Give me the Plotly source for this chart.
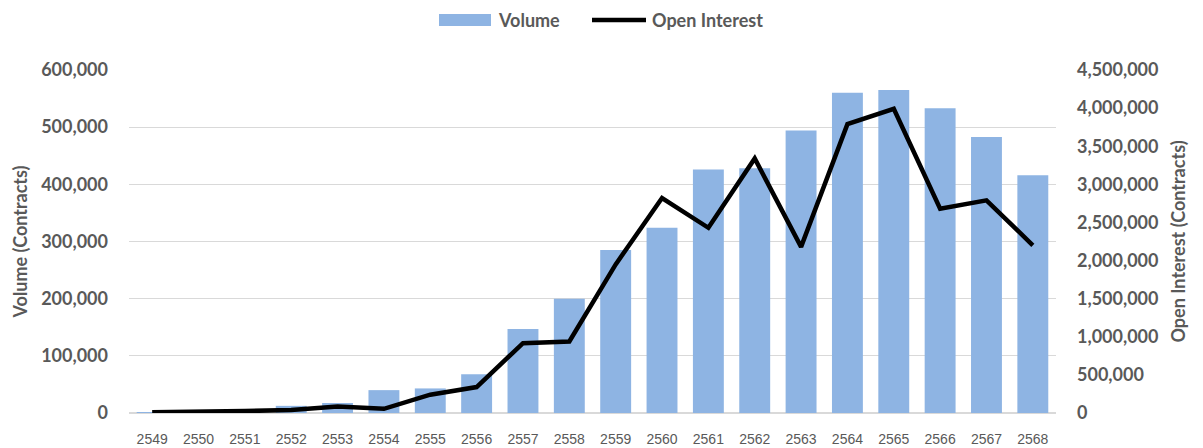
import plotly.graph_objects as go

years = ["2549", "2550", "2551", "2552", "2553", "2554", "2555", "2556", "2557", "2558",
         "2559", "2560", "2561", "2562", "2563", "2564", "2565", "2566", "2567", "2568"]
volume = [500, 1500, 6000, 12500, 17500, 40000, 43000, 68000, 147000, 200000,
          285000, 324000, 426000, 428000, 494000, 560000, 565000, 533000, 483000, 416000]
open_interest = [10000, 15000, 25000, 40000, 85000, 55000, 240000, 340000, 916000, 938000,
                 1950000, 2820000, 2430000, 3340000, 2180000, 3790000, 3990000, 2680000, 2790000, 2200000]

left_ticks = [0, 100000, 200000, 300000, 400000, 500000, 600000]
right_ticks = [0, 500000, 1000000, 1500000, 2000000, 2500000, 3000000, 3500000, 4000000, 4500000]

GREY = "#595959"
FONT = "Lato"
BAR_COLOR = "#8EB4E3"

# The page body has a default 8px margin, so the figure is drawn 8px in from the corner.
OFF = 8
W, H = 1203 - OFF, 448 - OFF
ML = 129 - OFF
MT = 70 - OFF
MR = 1203 - 1056
MB = 448 - 413
PW, PH = W - ML - MR, H - MT - MB


def px_x(px):
    return (px - OFF - ML) / PW


def px_y(py):
    return (H - MB - (py - OFF)) / PH


fig = go.Figure()
fig.add_trace(go.Bar(x=years, y=volume, name="Volume", marker=dict(color=BAR_COLOR, line=dict(width=0)),
                     yaxis="y", showlegend=False))
fig.add_trace(go.Scatter(x=years, y=open_interest, name="Open Interest", mode="lines",
                         line=dict(color="#000000", width=4.5), yaxis="y2", showlegend=False))

# custom legend (matches the wide swatches of the reference)
shapes = [
    dict(type="rect", xref="paper", yref="paper", x0=px_x(439), x1=px_x(491), y0=px_y(26), y1=px_y(14),
         fillcolor=BAR_COLOR, line=dict(width=0)),
    dict(type="line", xref="paper", yref="paper", x0=px_x(592), x1=px_x(646), y0=px_y(20), y1=px_y(20),
         line=dict(color="#000000", width=4.5)),
]
annotations = [
    dict(text="Volume", xref="paper", yref="paper", x=px_x(496), y=px_y(20), xanchor="left", yanchor="middle",
         showarrow=False, font=dict(family=FONT, size=18, color=GREY, weight="bold")),
    dict(text="Open Interest", xref="paper", yref="paper", x=px_x(650), y=px_y(20), xanchor="left",
         yanchor="middle", showarrow=False, font=dict(family=FONT, size=18, color=GREY, weight="bold")),
]

fig.update_layout(
    width=W, height=H,
    margin=dict(l=ML, r=MR, t=MT, b=MB, autoexpand=False),
    paper_bgcolor="white", plot_bgcolor="white",
    bargap=0.333,
    showlegend=False,
    font=dict(family=FONT, color=GREY),
    shapes=shapes,
    annotations=annotations,
    xaxis=dict(type="category", showgrid=False, showline=False, ticks="",
               tickfont=dict(family="Liberation Sans", size=14, color=GREY),
               ticklabelstandoff=16, zeroline=False),
    yaxis=dict(range=[0, 600000], tickvals=left_ticks, tickformat=",d",
               showgrid=True, gridcolor="#D9D9D9", gridwidth=1.3,
               zeroline=True, zerolinecolor="#D9D9D9", zerolinewidth=1.5,
               ticks="", showline=False,
               tickfont=dict(family=FONT, size=18, color=GREY, weight="bold"),
               ticklabelstandoff=20,
               title=dict(text="Volume (Contracts)", standoff=8,
                          font=dict(family=FONT, size=18, color=GREY, weight="bold"))),
    yaxis2=dict(range=[0, 4500000], tickvals=right_ticks, tickformat=",d",
                overlaying="y", side="right", showgrid=False, zeroline=False,
                ticks="", showline=False,
                tickfont=dict(family=FONT, size=18, color=GREY, weight="bold"),
                ticklabelstandoff=20,
                title=dict(text="Open Interest (Contracts)", standoff=14,
                           font=dict(family=FONT, size=18, color=GREY, weight="bold"))),
)

fig.write_html("out.html")
